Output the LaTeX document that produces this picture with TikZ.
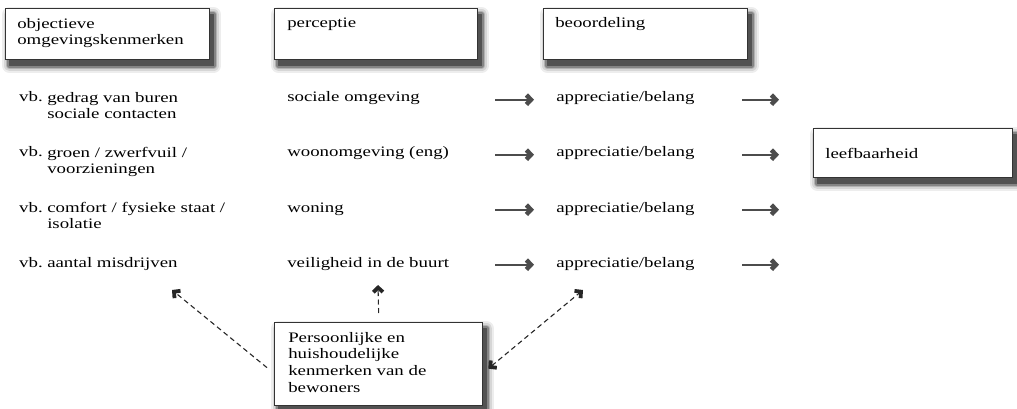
\documentclass[tikz,border=0pt]{standalone}
\usepackage{fontspec}
\setmainfont{Liberation Serif}[FakeStretch=1.3]
\usetikzlibrary{arrows.meta,shadows}
\tikzset{every picture/.style={line width=0.5pt}}

\begin{document}
\begin{tikzpicture}[x=1pt,y=-1pt,
  txt/.style={inner sep=0pt, anchor=base west, align=left, text=black,
    font=\fontsize{14.5}{16.8}\selectfont},
  soft/.style args={#1/#2}{drop shadow={shadow xshift=4pt, shadow yshift=-6pt, opacity=1,
    fill=black!#1, draw=black!#1, line width=#2, line join=round}},
  box/.style={draw=black!80, line width=1.3pt, fill=white, inner sep=0pt, anchor=north west,
    soft=7/15pt, soft=16/11pt, soft=30/7.5pt, soft=48/4.5pt, soft=68/1.5pt},
  flow/.style={draw=black!70, line width=2.2pt,
    -{Straight Barb[length=4.5pt,width=9.5pt,line width=4.5pt]}},
  infl/.style={draw=black!85, line width=1.1pt, dash pattern=on 5pt off 3.5pt},
  barb/.tip={Straight Barb[length=4.5pt,width=9.5pt,line width=3.8pt]}]
\useasboundingbox (0,0) rectangle (1017,409);
% header boxes
\node[box, minimum width=204pt, minimum height=51pt] (obj) at (5,8) {};
\node[box, minimum width=203pt, minimum height=51pt] (perc) at (274,8) {};
\node[box, minimum width=204pt, minimum height=51pt] (beo) at (543,8) {};
\node[txt] (objt) at (17,45) {objectieve\\omgevingskenmerken};
\node[txt] (perct) at (287,28) {perceptie};
\node[txt] (beot) at (555,28) {beoordeling};
% rows (base anchor sits on the last line)
\foreach \i/\y/\ex/\per in {1/102/{gedrag van buren\\sociale contacten}/{sociale omgeving},
  2/157/{groen / zwerfvuil /\\voorzieningen}/{woonomgeving (eng)},
  3/212/{comfort / fysieke staat /\\isolatie}/{woning}}{
  \node[txt] (vb\i) at (19,\y) {vb.};
  \node[txt] (ex\i) at (47,\y+16.8) {\ex};
  \node[txt] (pr\i) at (287,\y) {\per};
  \node[txt] (ap\i) at (556,\y) {appreciatie/belang};
  \draw[flow] ([xshift=-61pt]ap\i.mid west) -- ([xshift=-22pt]ap\i.mid west);
  \draw[flow] ([xshift=186pt]ap\i.mid west) -- ([xshift=223pt]ap\i.mid west);
}
\node[txt] (vb4) at (19,267) {vb.};
\node[txt] (ex4) at (47,267) {aantal misdrijven};
\node[txt] (pr4) at (287,267) {veiligheid in de buurt};
\node[txt] (ap4) at (556,267) {appreciatie/belang};
\draw[flow] ([xshift=-61pt]ap4.mid west) -- ([xshift=-22pt]ap4.mid west);
\draw[flow] ([xshift=186pt]ap4.mid west) -- ([xshift=223pt]ap4.mid west);
\node[box, minimum width=199pt, minimum height=49pt] (leef) at (813,128) {};
\node[txt] (leeft) at (825,158) {leefbaarheid};
% bewoners
\node[box, minimum width=208pt, minimum height=83pt] (pers) at (274,322) {};
\node[txt] (perst) at (288,392.4) {Persoonlijke en\\huishoudelijke\\kenmerken van de\\bewoners};
\coordinate (tobj) at (172,290);
\coordinate (tper) at (378,285);
\coordinate (tbeo) at (583,290);
\draw[infl, -barb] ([shift={(-7pt,-3.5pt)}]pers.west) -- (tobj);
\draw[infl, -barb] ([yshift=9pt]pers.north) -- (tper);
\draw[infl, barb-barb] ([shift={(5pt,-4.5pt)}]pers.east) -- (tbeo);
\end{tikzpicture}
\end{document}
